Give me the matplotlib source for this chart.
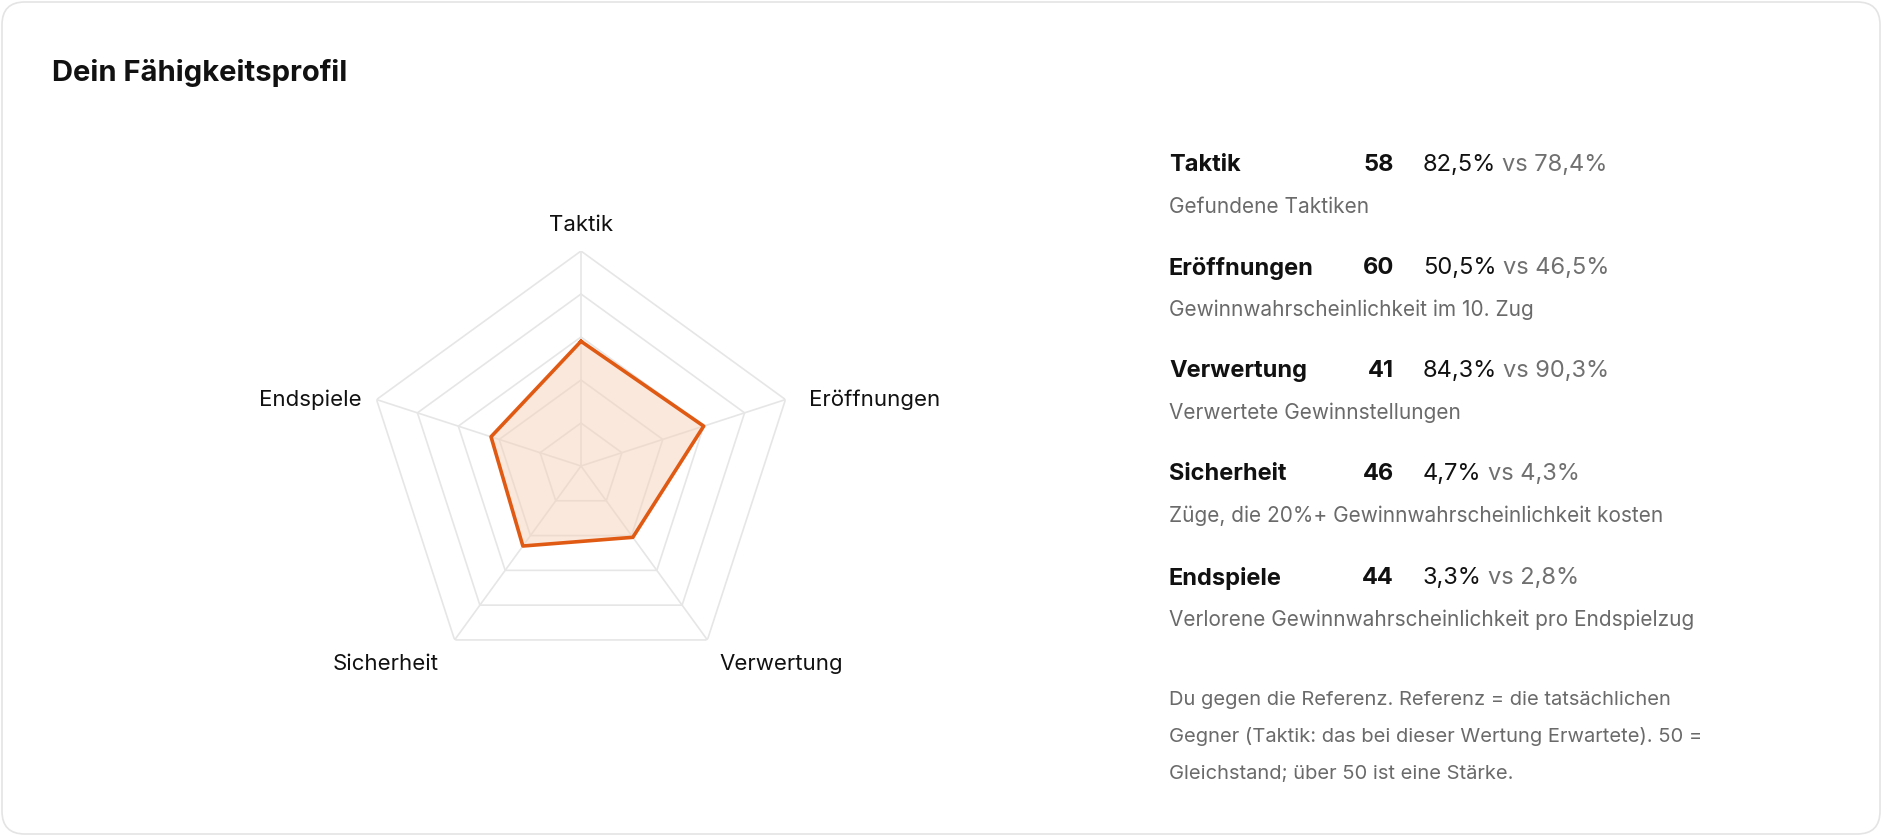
import numpy as np
import matplotlib
matplotlib.use("Agg")
import matplotlib.pyplot as plt
from matplotlib.patches import FancyBboxPatch

plt.rcParams['font.family'] = ['Inter', 'DejaVu Sans']

# skill data
skills = ['Taktik', 'Eröffnungen', 'Verwertung', 'Sicherheit', 'Endspiele']
scores = [58, 60, 41, 46, 44]
you_pct = ['82,5%', '50,5%', '84,3%', '4,7%', '3,3%']
ref_pct = ['78,4%', '46,5%', '90,3%', '4,3%', '2,8%']
descriptions = [
    'Gefundene Taktiken',
    'Gewinnwahrscheinlichkeit im 10. Zug',
    'Verwertete Gewinnstellungen',
    'Züge, die 20%+ Gewinnwahrscheinlichkeit kosten',
    'Verlorene Gewinnwahrscheinlichkeit pro Endspielzug',
]
grid_levels = [20, 40, 60, 80, 100]
footnote = ['Du gegen die Referenz. Referenz = die tatsächlichen',
            'Gegner (Taktik: das bei dieser Wertung Erwartete). 50 =',
            'Gleichstand; über 50 ist eine Stärke.']

W, H = 1900, 836
fig = plt.figure(figsize=(W / 100, H / 100), dpi=100)
fig.patch.set_facecolor('white')

# card outline
card = FancyBboxPatch((2 / W, 2 / H), 1878 / W, 832 / H,
                      boxstyle='round,pad=0,rounding_size=0.012',
                      transform=fig.transFigure, facecolor='none',
                      edgecolor='#e4e4e4', linewidth=1.2, mutation_aspect=W / H,
                      zorder=-5)
fig.patches.append(card)

fig.text(52 / W, 1 - 73 / H, 'Dein Fähigkeitsprofil', fontsize=21,
         fontweight='bold', color='#111111', va='center')

# radar chart
cx, cy, R = 581, 466, 215
ax = fig.add_axes([(cx - R) / W, (H - cy - R) / H, 2 * R / W, 2 * R / H],
                  projection='polar')
ax.set_theta_offset(np.pi / 2)
ax.set_theta_direction(-1)
ax.set_ylim(0, 100)
ax.grid(False)
ax.set_xticks([])
ax.set_yticks([])
ax.spines['polar'].set_visible(False)
ax.patch.set_alpha(0)

angles = np.linspace(0, 2 * np.pi, len(skills), endpoint=False)
closed = np.append(angles, angles[0])
grid_col = '#e6e6e6'
for lvl in grid_levels:
    ax.plot(closed, [lvl] * len(closed), color=grid_col, lw=1.2, zorder=1)
for a in angles:
    ax.plot([a, a], [0, 100], color=grid_col, lw=1.2, zorder=1)

vals = np.append(scores, scores[0])
ax.fill(closed, vals, color='#f6d2bc', alpha=0.5, zorder=2)
ax.plot(closed, vals, color='#e05a14', lw=2.6, zorder=3)

offsets = [((0, 19), 'center'), ((17, 0), 'left'), ((53, -17), 'center'),
           ((-50, -17), 'center'), ((-11, 0), 'right')]
for a, name, (off, ha) in zip(angles, skills, offsets):
    ax.annotate(name, xy=(a, 100), xytext=off, textcoords='offset points',
                ha=ha, va='center', fontsize=16, color='#111111',
                annotation_clip=False)

# right-hand list
row_y = [165, 268, 371, 474, 578]
for y, name, sc, yp, rp, desc in zip(row_y, skills, scores, you_pct, ref_pct, descriptions):
    fy = 1 - y / H
    fig.text(1169 / W, fy, name, fontsize=17, fontweight='bold',
             color='#111111', va='center')
    fig.text(1394 / W, fy, str(sc), fontsize=17, fontweight='bold',
             color='#111111', va='center', ha='right')
    t = fig.text(1423 / W, fy, yp, fontsize=17, color='#111111', va='center')
    fig.canvas.draw()
    bb = t.get_window_extent()
    fig.text(bb.x1 / W + 6 / W, fy, 'vs ' + rp, fontsize=17,
             color='#707070', va='center')
    fig.text(1169 / W, 1 - (y + 42) / H, desc, fontsize=15,
             color='#6a6a6a', va='center')

for i, line in enumerate(footnote):
    fig.text(1169 / W, 1 - (700 + 37 * i) / H, line, fontsize=14.5,
             color='#6a6a6a', va='center')

fig.savefig('out.png', dpi=100, facecolor='white')
